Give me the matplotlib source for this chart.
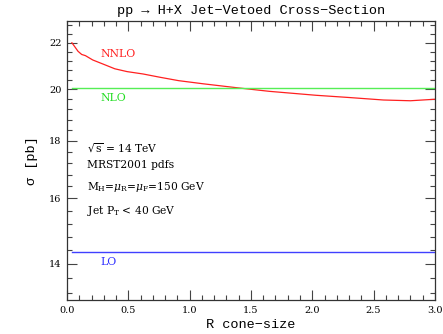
import matplotlib

matplotlib.use("Agg")
import matplotlib.pyplot as plt
from matplotlib.ticker import (FixedLocator, FixedFormatter, NullFormatter,
                               MultipleLocator, FormatStrFormatter)

# cone size R and cross-sections (pb)
r_nnlo = [0.04, 0.06, 0.09, 0.12, 0.15, 0.21, 0.30, 0.39, 0.49, 0.62, 0.76,
          0.91, 1.11, 1.38, 1.65, 2.03, 2.30, 2.58, 2.80, 3.00]
sigma_nnlo = [22.0, 21.85, 21.62, 21.48, 21.43, 21.24, 21.05, 20.86, 20.74, 20.64,
              20.50, 20.36, 20.23, 20.07, 19.92, 19.76, 19.67, 19.57, 19.54, 19.60]
r_flat = [0.04, 3.0]
sigma_nlo = [20.04, 20.04]
sigma_lo = [14.35, 14.35]

y_major = [14, 16, 18, 20, 22]
y_minor = [13.2, 13.6, 14.4, 14.8, 15.2, 15.6, 16.4, 16.8, 17.2, 17.6, 18.4,
           18.8, 19.2, 19.6, 20.4, 20.8, 21.2, 21.6, 22.4, 22.8]

mono = "Liberation Mono"
serif = "DejaVu Serif"
plt.rcParams["mathtext.fontset"] = "dejavuserif"

fig = plt.figure(figsize=(4.43, 3.34), dpi=100)
ax = fig.add_axes([0.1512, 0.1018, 0.8306, 0.8352])

ax.plot(r_nnlo, sigma_nnlo, color="#ff2020", lw=0.9)
ax.plot(r_flat, sigma_nlo, color="#55ee55", lw=1.0)
ax.plot(r_flat, sigma_lo, color="#4040ff", lw=1.0)

ax.set_yscale("log")
ax.set_xlim(0, 3.0)
ax.set_ylim(13, 23)

ax.yaxis.set_major_locator(FixedLocator(y_major))
ax.yaxis.set_major_formatter(FixedFormatter([str(v) for v in y_major]))
ax.yaxis.set_minor_locator(FixedLocator(y_minor))
ax.yaxis.set_minor_formatter(NullFormatter())
ax.xaxis.set_major_locator(MultipleLocator(0.5))
ax.xaxis.set_minor_locator(MultipleLocator(0.1))
ax.xaxis.set_major_formatter(FormatStrFormatter("%.1f"))

ax.tick_params(which="both", direction="in", top=True, right=True,
               color="#444444", width=0.8, labelsize=7)
ax.tick_params(which="major", length=7.5, pad=4)
ax.tick_params(which="minor", length=3.5)
for lab in ax.get_xticklabels() + ax.get_yticklabels():
    lab.set_fontfamily(serif)
for sp in ax.spines.values():
    sp.set_linewidth(0.9)
    sp.set_color("#333333")

ax.set_title("pp \u2192 H+X Jet\u2212Vetoed Cross\u2212Section", family=mono,
             fontsize=9.7, pad=5)
ax.set_xlabel("R cone\u2212size", family=mono, fontsize=9.7, labelpad=3)
ax.set_ylabel("\u03c3 [pb]", family=mono, fontsize=9.7, labelpad=8)

ax.text(0.27, 21.5, "NNLO", color="#ff2020", family=serif, fontsize=7.8,
        va="center", ha="left")
ax.text(0.27, 19.65, "NLO", color="#22dd22", family=serif, fontsize=7.8,
        va="center", ha="left")
ax.text(0.27, 14.05, "LO", color="#3030ff", family=serif, fontsize=7.8,
        va="center", ha="left")

notes = [r"$\sqrt{\mathrm{s}}$ = 14 TeV",
         "MRST2001 pdfs",
         r"M$_\mathrm{H}$=$\mu_\mathrm{R}$=$\mu_\mathrm{F}$=150 GeV",
         r"Jet P$_\mathrm{T}$ < 40 GeV"]
note_y = [0.545, 0.484, 0.405, 0.319]
for txt, yy in zip(notes, note_y):
    ax.text(0.054, yy, txt, transform=ax.transAxes, family=serif,
            fontsize=7.7, va="center", ha="left")

fig.savefig("out.png", dpi=100)
